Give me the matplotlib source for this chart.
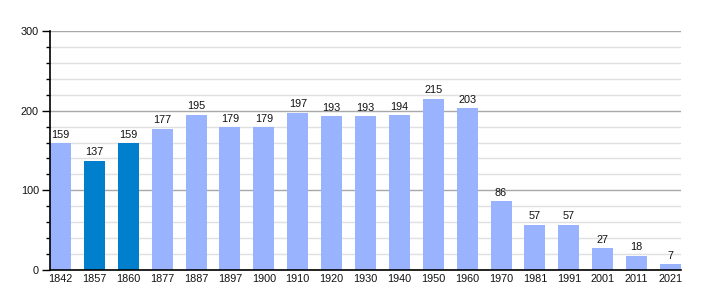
import matplotlib
matplotlib.use("Agg")
import matplotlib.pyplot as plt
from matplotlib.ticker import MultipleLocator

years = ["1842", "1857", "1860", "1877", "1887", "1897", "1900", "1910", "1920", "1930",
         "1940", "1950", "1960", "1970", "1981", "1991", "2001", "2011", "2021"]
population = [159, 137, 159, 177, 195, 179, 179, 197, 193, 193, 194, 215, 203, 86, 57, 57, 27, 18, 7]
highlight = ["1857", "1860"]

light = "#99b3ff"
dark = "#0080cc"
fs = 7.8

plt.rcParams['font.family'] = ['Liberation Sans', 'DejaVu Sans']
fig = plt.figure(figsize=(7.1, 3.0), dpi=100)
ax = fig.add_axes([50/710, 30/300, 631/710, 239/300])

x = list(range(len(years)))
colors = [dark if y in highlight else light for y in years]
ax.bar(x, population, width=0.62, color=colors, zorder=3)
for xi, v in zip(x, population):
    ax.text(xi, v + 4.5, str(v), ha='center', va='bottom', fontsize=fs, color='#111111', zorder=4)

ax.set_xlim(-0.31, len(years) - 1 + 0.31)
ax.set_ylim(0, 300)
ax.set_xticks(x)
ax.set_xticklabels(years, fontsize=fs, color='#111111')
ax.yaxis.set_major_locator(MultipleLocator(100))
ax.yaxis.set_minor_locator(MultipleLocator(20))
ax.tick_params(axis='y', which='major', length=6, width=1, labelsize=fs, pad=2, labelcolor='#111111')
ax.tick_params(axis='y', which='minor', length=3, width=1)
ax.tick_params(axis='x', length=0, labelsize=fs, pad=3)
ax.grid(axis='y', which='minor', color='#e0e0e0', linewidth=1, zorder=0)
ax.grid(axis='y', which='major', color='#a8a8a8', linewidth=1, zorder=1)
for s in ['top', 'right']:
    ax.spines[s].set_visible(False)
ax.spines['left'].set_linewidth(1.2)
ax.spines['bottom'].set_linewidth(1.2)
ax.spines['left'].set_zorder(5)
ax.spines['bottom'].set_zorder(5)

fig.savefig("out.png", dpi=100)
